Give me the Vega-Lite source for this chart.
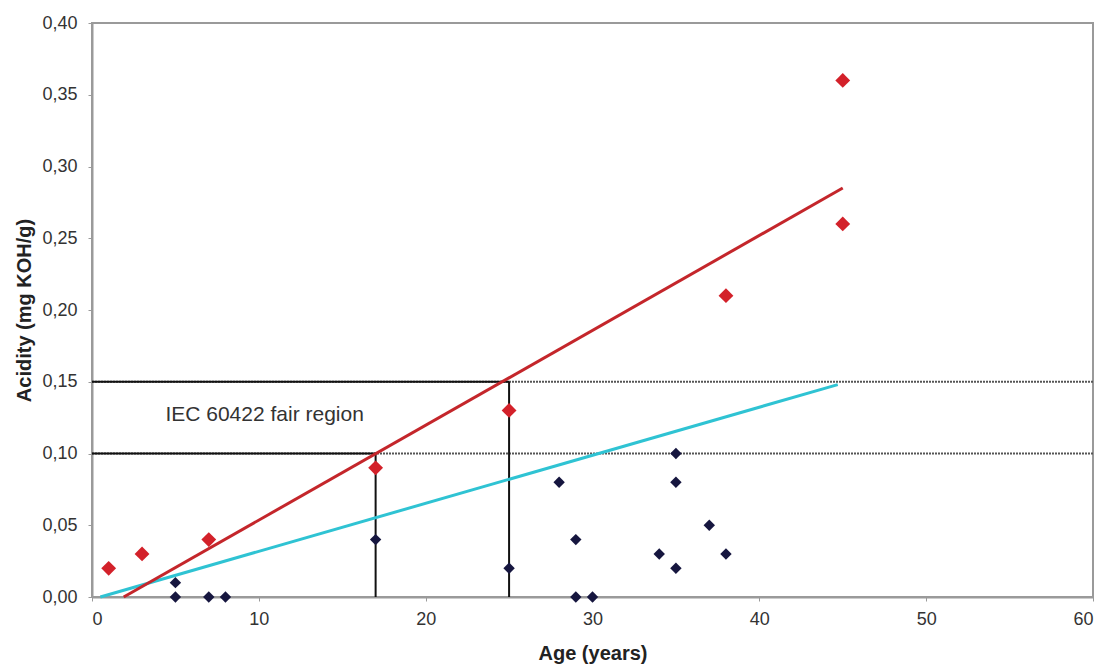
{
  "$schema": "https://vega.github.io/schema/vega-lite/v6.json",
  "width": 1001,
  "height": 574,
  "autosize": "none",
  "padding": {"left": 92, "top": 23, "right": 14, "bottom": 72},
  "background": "white",
  "config": {
    "font": "Liberation Sans",
    "view": {"stroke": "#9a9a9a", "strokeWidth": 2},
    "axis": {
      "grid": false,
      "domainColor": "#9a9a9a",
      "domainWidth": 2,
      "tickColor": "#9a9a9a",
      "tickSize": 4,
      "labelFont": "Liberation Sans",
      "labelFontSize": 18,
      "labelColor": "#333333",
      "titleFont": "Liberation Sans",
      "titleFontSize": 20,
      "titleFontWeight": "bold",
      "titleColor": "#222222"
    }
  },
  "datasets": {
    "red": [
      {"age": 1, "acidity": 0.02},
      {"age": 3, "acidity": 0.03},
      {"age": 7, "acidity": 0.04},
      {"age": 17, "acidity": 0.09},
      {"age": 25, "acidity": 0.13},
      {"age": 38, "acidity": 0.21},
      {"age": 45, "acidity": 0.26},
      {"age": 45, "acidity": 0.36}
    ],
    "navy": [
      {"age": 5, "acidity": 0.01},
      {"age": 5, "acidity": 0.0},
      {"age": 7, "acidity": 0.0},
      {"age": 8, "acidity": 0.0},
      {"age": 17, "acidity": 0.04},
      {"age": 25, "acidity": 0.02},
      {"age": 28, "acidity": 0.08},
      {"age": 29, "acidity": 0.04},
      {"age": 29, "acidity": 0.0},
      {"age": 30, "acidity": 0.0},
      {"age": 34, "acidity": 0.03},
      {"age": 35, "acidity": 0.1},
      {"age": 35, "acidity": 0.08},
      {"age": 35, "acidity": 0.02},
      {"age": 37, "acidity": 0.05},
      {"age": 38, "acidity": 0.03}
    ],
    "redTrend": [
      {"age": 1.9, "acidity": 0.0},
      {"age": 45, "acidity": 0.285}
    ],
    "cyanTrend": [
      {"age": 0.5, "acidity": 0.0},
      {"age": 44.7, "acidity": 0.148}
    ],
    "limits": [
      {"y": 0.1, "y0": 0, "x0": 0, "x1": 60, "xs": 17},
      {"y": 0.15, "y0": 0, "x0": 0, "x1": 60, "xs": 25}
    ],
    "labels": [
      {"age": 4.4, "acidity": 0.127, "text": "IEC 60422 fair region"}
    ]
  },
  "layer": [
    {
      "data": {"name": "limits"},
      "mark": {"type": "rule", "color": "#555555", "strokeWidth": 2, "strokeDash": [2, 1]},
      "encoding": {
        "x": {"field": "x0", "type": "quantitative", "scale": {"domain": [0, 60], "nice": false},
          "axis": {"title": "Age (years)", "values": [0, 10, 20, 30, 40, 50, 60], "labelPadding": 9, "titlePadding": 15}},
        "x2": {"field": "x1"},
        "y": {"field": "y", "type": "quantitative", "scale": {"domain": [0, 0.4], "nice": false},
          "axis": {"title": "Acidity (mg KOH/g)", "values": [0, 0.05, 0.1, 0.15, 0.2, 0.25, 0.3, 0.35, 0.4],
            "labelExpr": "replace(format(datum.value, '.2f'), '.', ',')", "labelPadding": 11, "titlePadding": 7}}
      }
    },
    {
      "data": {"name": "limits"},
      "mark": {"type": "rule", "color": "#111111", "strokeWidth": 2},
      "encoding": {
        "x": {"field": "x0", "type": "quantitative"},
        "x2": {"field": "xs"},
        "y": {"field": "y", "type": "quantitative"}
      }
    },
    {
      "data": {"name": "limits"},
      "mark": {"type": "rule", "color": "#111111", "strokeWidth": 2},
      "encoding": {
        "x": {"field": "xs", "type": "quantitative"},
        "y": {"field": "y0", "type": "quantitative"},
        "y2": {"field": "y"}
      }
    },
    {
      "data": {"name": "cyanTrend"},
      "mark": {"type": "line", "color": "#2fc3d3", "strokeWidth": 3},
      "encoding": {
        "x": {"field": "age", "type": "quantitative"},
        "y": {"field": "acidity", "type": "quantitative"}
      }
    },
    {
      "data": {"name": "redTrend"},
      "mark": {"type": "line", "color": "#c4262b", "strokeWidth": 3},
      "encoding": {
        "x": {"field": "age", "type": "quantitative"},
        "y": {"field": "acidity", "type": "quantitative"}
      }
    },
    {
      "data": {"name": "navy"},
      "mark": {"type": "point", "shape": "diamond", "filled": true, "color": "#16163f", "size": 130, "opacity": 1},
      "encoding": {
        "x": {"field": "age", "type": "quantitative"},
        "y": {"field": "acidity", "type": "quantitative"}
      }
    },
    {
      "data": {"name": "red"},
      "mark": {"type": "point", "shape": "diamond", "filled": true, "color": "#d3212a", "size": 220, "opacity": 1},
      "encoding": {
        "x": {"field": "age", "type": "quantitative"},
        "y": {"field": "acidity", "type": "quantitative"}
      }
    },
    {
      "data": {"name": "labels"},
      "mark": {"type": "text", "align": "left", "baseline": "middle", "fontSize": 21, "color": "#333333", "font": "Liberation Sans"},
      "encoding": {
        "x": {"field": "age", "type": "quantitative"},
        "y": {"field": "acidity", "type": "quantitative"},
        "text": {"field": "text"}
      }
    }
  ]
}
